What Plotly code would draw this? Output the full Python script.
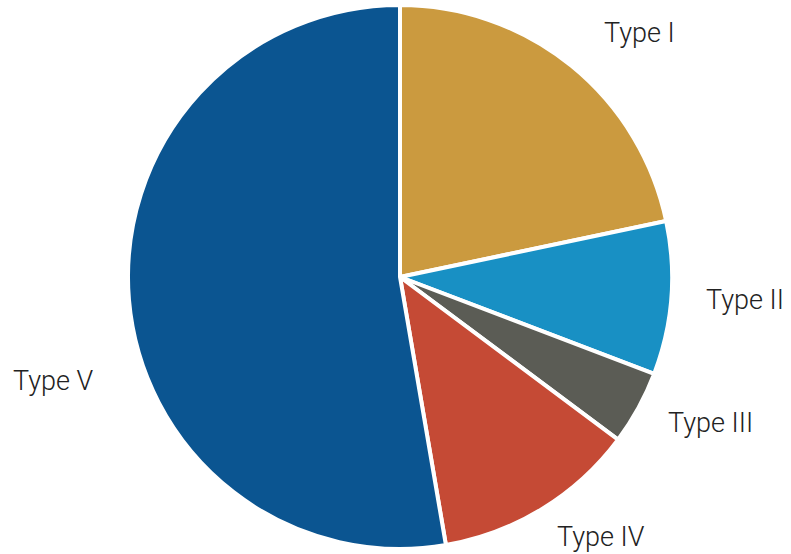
import plotly.graph_objects as go

# Share of each type (percent)
labels = ["Type I", "Type II", "Type III", "Type IV", "Type V"]
values = [21.7, 9.1, 4.4, 12.1, 52.7]
colors = ["#CB9A3F", "#1890C4", "#5B5C55", "#C54A35", "#0B5591"]

# Label centres in paper coordinates
label_pos = [(0.809, 0.94), (0.942, 0.458), (0.898, 0.236), (0.76, 0.031), (0.068, 0.312)]

fig = go.Figure(go.Pie(
    labels=labels, values=values, sort=False, direction="clockwise",
    rotation=0, textinfo="none", hoverinfo="label+percent",
    marker=dict(colors=colors, line=dict(color="white", width=4)),
    domain=dict(x=[128 / 791, 672 / 791], y=[5 / 554, 549 / 554]),
))

for lab, (x, y) in zip(labels, label_pos):
    fig.add_annotation(x=x, y=y, xref="paper", yref="paper", text=lab,
                       xanchor="center", yanchor="middle", showarrow=False,
                       font=dict(size=27, color="#222222", family="Roboto", weight=300))

fig.update_layout(width=791, height=554, margin=dict(l=0, r=0, t=0, b=0),
                  showlegend=False, paper_bgcolor="white",
                  font=dict(family="Roboto, Liberation Sans, Arial, sans-serif"))

# drop the default page margin so the figure sits at the top-left corner
fig.write_html("out.html", config={"displayModeBar": False},
               post_script="document.body.style.margin='0';")
